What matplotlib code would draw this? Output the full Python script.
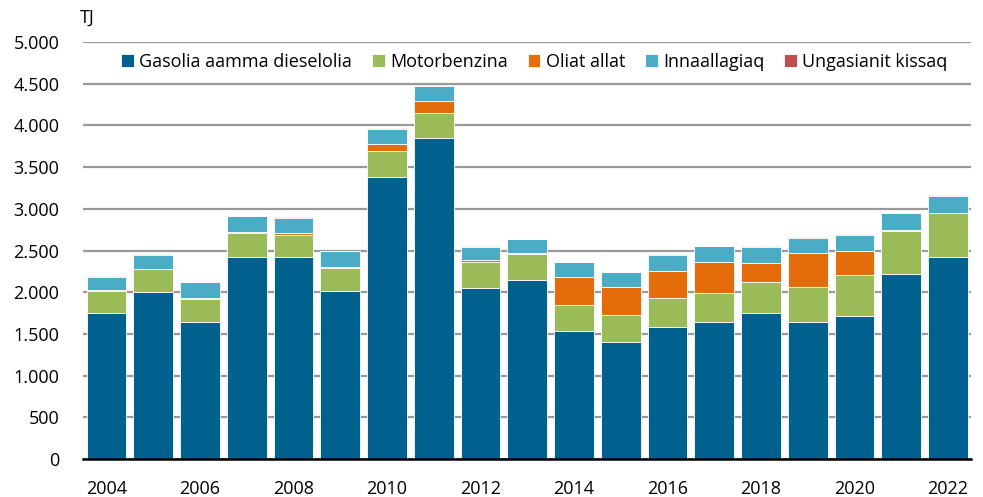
import matplotlib
matplotlib.use("Agg")
import matplotlib.pyplot as plt
from matplotlib.ticker import FuncFormatter
import numpy as np

plt.rcParams['font.family'] = ['Open Sans', 'DejaVu Sans']

years = list(range(2004, 2023))
gasolia = [1747, 1999, 1639, 2426, 2418, 2010, 3385, 3853, 2046, 2150, 1538, 1403, 1579, 1643, 1751, 1646, 1718, 2218, 2426]
motorbenzina = [267, 275, 283, 288, 272, 280, 308, 295, 312, 304, 308, 320, 348, 351, 371, 420, 488, 520, 520]
oliat = [8, 8, 12, 8, 18, 12, 80, 148, 28, 15, 340, 336, 331, 368, 232, 408, 292, 12, 5]
innaallagiaq = [164, 168, 188, 192, 182, 188, 184, 173, 160, 165, 176, 179, 192, 192, 192, 180, 192, 196, 206]
ungasianit = [5, 8, 5, 5, 8, 5, 10, 10, 10, 5, 5, 5, 5, 5, 5, 5, 8, 5, 5]

series = [
    ("Gasolia aamma dieselolia", gasolia, "#00618F"),
    ("Motorbenzina", motorbenzina, "#9BBB59"),
    ("Oliat allat", oliat, "#E46C0A"),
    ("Innaallagiaq", innaallagiaq, "#4BACC6"),
    ("Ungasianit kissaq", ungasianit, "#C0504D"),
]

fig = plt.figure(figsize=(9.83, 4.97), dpi=100)
ax = fig.add_axes([83/983, 38/497, (971.4-83)/983, (459-42)/497])

x = np.arange(len(years))
bottom = np.zeros(len(years))
for name, vals, col in series:
    ax.bar(x, vals, bottom=bottom, width=0.85, color=col, label=name,
           edgecolor="white", linewidth=0.6, zorder=3)
    bottom += np.array(vals)

ax.set_xlim(-0.5, len(years) - 0.5)
ax.set_ylim(0, 5000)
ax.set_yticks(np.arange(0, 5001, 500))
ax.yaxis.set_major_formatter(FuncFormatter(lambda v, p: f"{int(v):,}".replace(",", ".")))
ax.set_xticks(x[::2])
ax.set_xticklabels([str(y) for y in years[::2]])
ax.grid(axis="y", color="#999999", linewidth=1.6, zorder=0)
for s in ["top", "right", "left"]:
    ax.spines[s].set_visible(False)
ax.spines["bottom"].set_color("black")
ax.spines["bottom"].set_linewidth(1.8)
ax.spines["bottom"].set_zorder(4)
ax.tick_params(axis="both", length=0, labelsize=13, colors="black")
ax.tick_params(axis="y", pad=17)
ax.tick_params(axis="x", pad=15)

fig.text(80/983, 1 - 18/497, "TJ", fontsize=13, va="center", ha="left")

leg = ax.legend(loc="upper center", bbox_to_anchor=(0.508, 1.0), ncol=5, frameon=False,
                fontsize=13, handlelength=0.7, handleheight=0.7, handletextpad=0.3,
                columnspacing=1.1, borderaxespad=0.2)

fig.savefig("out.png", dpi=100)
